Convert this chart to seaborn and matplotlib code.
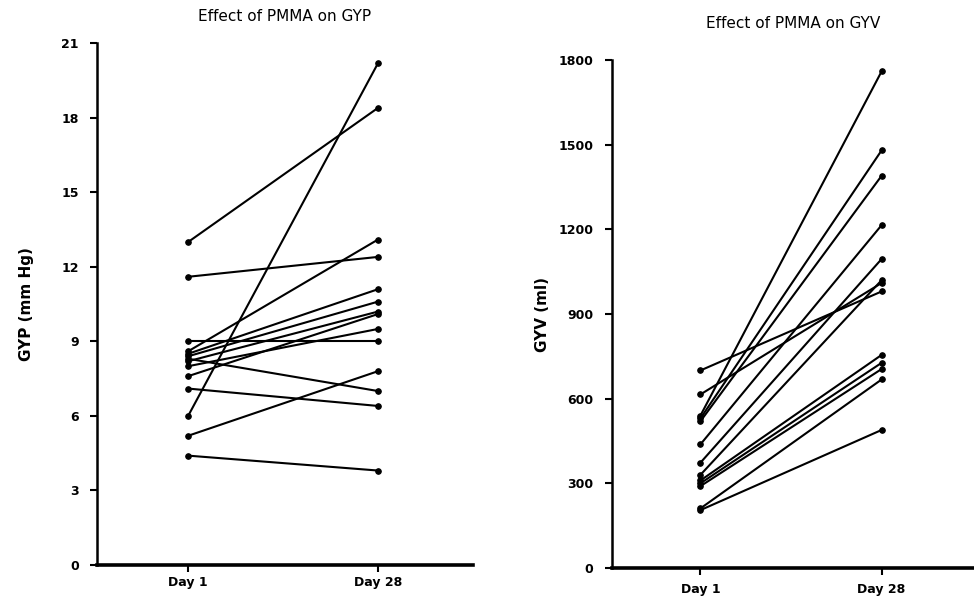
import numpy as np
import pandas as pd
import seaborn as sns
import matplotlib.pyplot as plt

sns.set_style("ticks")
plt.rcParams['font.family'] = ['DejaVu Sans']
plt.rcParams['text.color'] = 'black'
plt.rcParams['axes.labelcolor'] = 'black'
plt.rcParams['xtick.color'] = 'black'
plt.rcParams['ytick.color'] = 'black'
plt.rcParams['axes.edgecolor'] = 'black'

days = ["Day 1", "Day 28"]

# GYP (mm Hg), one entry per subject
gyp_day1 = [13.0, 11.6, 9.0, 8.6, 8.5, 8.4, 8.3, 8.2, 8.0, 7.6, 7.1, 6.0, 5.2, 4.4]
gyp_day28 = [18.4, 12.4, 9.0, 13.1, 11.1, 10.6, 7.0, 10.2, 9.5, 10.1, 6.4, 20.2, 7.8, 3.8]
gyp_ticks = [0, 3, 6, 9, 12, 15, 18, 21]

# GYV (ml), one entry per subject
gyv_day1 = [700, 615, 540, 530, 520, 438, 373, 330, 310, 300, 290, 211, 205]
gyv_day28 = [980, 1010, 1760, 1480, 1390, 1215, 1095, 1020, 755, 727, 705, 668, 489]
gyv_ticks = [0, 300, 600, 900, 1200, 1500, 1800]


def long_form(d1, d28):
    n = len(d1)
    return pd.DataFrame({
        "subject": list(range(n)) * 2,
        "day": [0] * n + [1] * n,
        "value": list(d1) + list(d28),
    })


fig = plt.figure(figsize=(9.74, 6.01), dpi=100)
ax1 = fig.add_axes([0.0996, 0.060, 0.3860, 0.868])
ax2 = fig.add_axes([0.628, 0.055, 0.372, 0.845])

panels = [
    (ax1, long_form(gyp_day1, gyp_day28), gyp_ticks, "GYP (mm Hg)",
     "Effect of PMMA on GYP", 16, 20, 3),
    (ax2, long_form(gyv_day1, gyv_day28), gyv_ticks, "GYV (ml)",
     "Effect of PMMA on GYV", 23, 6, 6),
]

for ax, df, ticks, ylab, title, tpad, lpad, xpad in panels:
    sns.lineplot(data=df, x="day", y="value", units="subject", estimator=None,
                 color="black", linewidth=1.5, marker="o", markersize=4,
                 markeredgecolor="black", ax=ax, legend=False)
    ax.set_xlim(-0.48, 1.5)
    ax.set_ylim(ticks[0], ticks[-1])
    ax.set_yticks(ticks)
    ax.set_xticks([0, 1])
    ax.set_xticklabels(days)
    ax.set_xlabel("")
    ax.set_ylabel(ylab, fontsize=11, fontweight="bold", labelpad=lpad)
    ax.set_title(title, fontsize=11, pad=tpad)
    sns.despine(ax=ax)
    ax.spines["left"].set_linewidth(1.8)
    ax.spines["bottom"].set_linewidth(2.6)
    ax.tick_params(axis="both", direction="out", length=5, width=1.5,
                   labelsize=9)
    ax.tick_params(axis="y", pad=8)
    ax.tick_params(axis="x", pad=xpad)
    for lbl in ax.get_xticklabels() + ax.get_yticklabels():
        lbl.set_fontweight("bold")

ax2.set_xlim(-0.49, 1.51)

fig.savefig("out.png", dpi=100)
